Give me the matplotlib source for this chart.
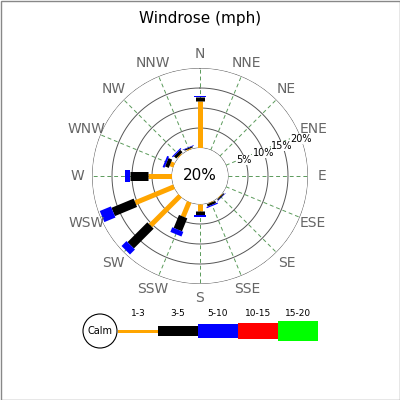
import numpy as np
import matplotlib
matplotlib.use("Agg")
import matplotlib.pyplot as plt
from matplotlib.patches import Circle, Rectangle

directions = ["N","NNE","NE","ENE","E","ESE","SE","SSE","S","SSW","SW","WSW","W","WNW","NW","NNW"]
bins = ["1-3","3-5","5-10","10-15","15-20"]
colors = ["orange","black","blue","red","#00ff00"]
widths_px = [5, 9, 12, 14, 18]
s1_3  = [11.75,0,0,0,0,0,0.2,0.2,1.75,4.0,10.5,10.5,6.0,1.0,0.3,0.3]
s3_5  = [1.0,0,0,0,0,0,0.3,0.6,1.0,3.5,7.0,6.0,4.5,1.0,0.8,0.3]
s5_10 = [0.3,0,0,0,0,0,0.1,0.3,0.4,1.25,1.75,3.0,1.25,0.5,0.3,0.15]
series = [s1_3, s3_5, s5_10]
calm = "20%"
rings = [5, 10, 15, 20]

W = H = 400
fig = plt.figure(figsize=(4, 4), dpi=100)
bg = fig.add_axes([0, 0, 1, 1])
bg.set_xlim(0, W); bg.set_ylim(H, 0); bg.axis("off")
bg.add_patch(Rectangle((0.5, 0.5), W - 1, H - 1, fill=False, ec="#888888", lw=1))
bg.text(200, 18, "Windrose (mph)", ha="center", va="center", fontsize=11)

cx, cy, inner, outer = 200, 176, 28, 108
ax = fig.add_axes([(cx - outer) / W, 1 - (cy + outer) / H, 2 * outer / W, 2 * outer / H],
                  projection="polar")
ax.set_theta_zero_location("N"); ax.set_theta_direction(-1)
ax.set_ylim(0, 20)
ax.set_rorigin(-inner / (outer - inner) * 20)
ax.axis("off")
ax.patch.set_alpha(0)
th = np.linspace(0, 2 * np.pi, 361)
for r in [0] + rings:
    ax.plot(th, [r] * len(th), color="#555555", lw=0.7)
angles = np.deg2rad(np.arange(16) * 22.5)
for a in angles:
    ax.plot([a, a], [0, 20], color="#5a9a5a", lw=0.7, ls=(0, (4, 3)))
for r in rings:
    ax.text(np.deg2rad(70), r - 0.2, f"{r}%", fontsize=7, ha="center", va="center",
            bbox=dict(fc="white", ec="none", pad=0.1))
for a, d in zip(angles, directions):
    ax.text(a, 23.6, d, fontsize=10, color="#666666", ha="center", va="center")
ax.text(0, -7, calm, ha="center", va="center", fontsize=11)
for i, a in enumerate(angles):
    start = 0
    for k, s in enumerate(series):
        v = s[i]
        if v > 0:
            ax.plot([a, a], [start, start + v], color=colors[k], lw=widths_px[k] * 0.72,
                    solid_capstyle="butt")
        start += v

# legend
ly = 331
bg.add_patch(Circle((100, ly), 17, fill=False, ec="black", lw=0.8))
bg.text(100, ly, "Calm", ha="center", va="center", fontsize=7)
x0 = 118
for k, b in enumerate(bins):
    h = [3, 10, 14, 16, 20][k]
    bg.add_patch(Rectangle((x0 + 40 * k, ly - h / 2), 40, h, color=colors[k], lw=0))
    bg.text(x0 + 40 * k + 20, 313, b, ha="center", va="center", fontsize=6.5)

fig.savefig("out.png", dpi=100)
